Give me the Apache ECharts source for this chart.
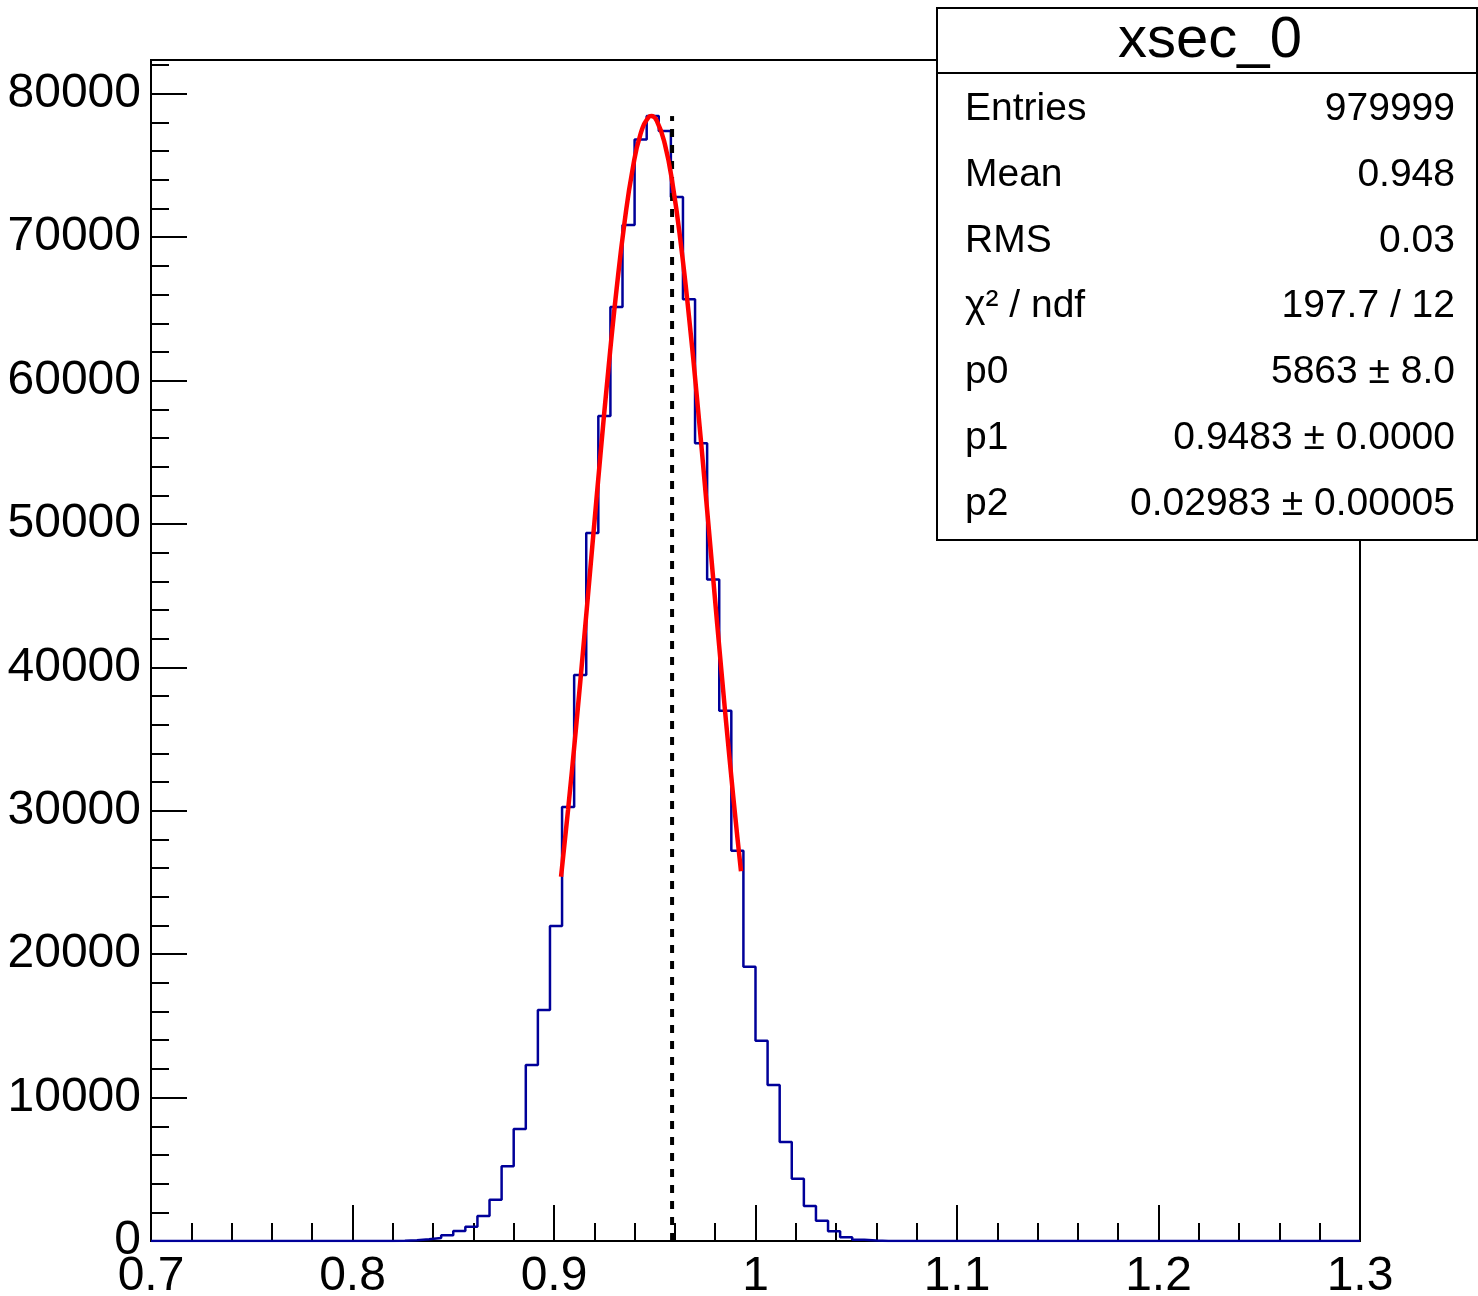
<!DOCTYPE html>
<html>
<head>
<meta charset="utf-8">
<script src="https://cdn.jsdelivr.net/npm/echarts@6/dist/echarts.min.js"></script>
<style>
html,body{margin:0;padding:0;background:#fff;}
#chart{width:1478px;height:1296px;}
</style>
</head>
<body>
<div id="chart"></div>
<script>
// ---- data ----
const binLow = 0.7;
const binWidth = 0.006;
const binCounts = [
  0,0,0,0,0,0,0,0,0,0,
  0,0,0,0,0,0,0,0,0,5,
  15,50,120,210,400,700,1000,1740,2880,5210,
  7810,12270,16110,21970,30270,39470,49370,57530,65130,70850,
  76820,78450,77400,72800,65670,55630,46140,36980,27220,19130,
  13970,10880,6900,4340,2440,1420,680,260,80,30,
  0,0,0,0,0,0,0,0,0,0,
  0,0,0,0,0,0,0,0,0,0,
  0,0,0,0,0,0,0,0,0,0,
  0,0,0,0,0,0,0,0,0,0
];
const fitX = [0.9035,0.907,0.911,0.915,0.919,0.923,0.927,0.931,0.935,0.939,0.943,0.947,0.9483,0.951,0.955,0.959,0.963,0.967,0.971,0.975,0.979,0.983,0.987,0.991,0.9928];
const fitY = [25400,30090,35900,42070,48430,54750,60800,66300,71030,74730,77220,78380,78450,78130,76500,73560,69480,64450,58730,52550,46200,39880,33820,28160,25790];
const refX = [0.9586, 0.9586];
const refY = [0, 78450];
const xTicks = { min: 0.7, max: 1.3, interval: 0.1 };
const yTicks = { min: 0, max: 82360, interval: 10000, minor: 2000 };
const statsTitle = 'xsec_0';
const statsNames = ['Entries', 'Mean', 'RMS', 'χ² / ndf', 'p0', 'p1', 'p2'];
const statsValues = ['979999', '0.948', '0.03', '197.7 / 12', '5863 ± 8.0', '0.9483 ± 0.0000', '0.02983 ± 0.00005'];

// ---- build ----
const histData = binCounts.map((v, k) => [+(binLow + k * binWidth).toFixed(4), v]);
histData.push([+(binLow + binCounts.length * binWidth).toFixed(4), binCounts[binCounts.length - 1]]);
const fitData = fitX.map((x, i) => [x, fitY[i]]);
const refData = refX.map((x, i) => [x, refY[i]]);

const FONT = '"Liberation Sans", Arial, sans-serif';
const chart = echarts.init(document.getElementById('chart'), null, { renderer: 'canvas' });

const graphics = [
  { type: 'rect', z: 100, shape: { x: 937, y: 8, width: 540, height: 532 },
    style: { fill: '#fff', stroke: '#000', lineWidth: 2 } },
  { type: 'line', z: 101, shape: { x1: 937, y1: 73, x2: 1477, y2: 73 },
    style: { stroke: '#000', lineWidth: 2 } },
  { type: 'text', z: 102, style: { text: statsTitle, x: 1210, y: 41, font: '58px ' + FONT,
    fill: '#000', textAlign: 'center', textVerticalAlign: 'middle' } }
];
statsNames.forEach((n, i) => {
  const y = 109 + 65.9 * i;
  graphics.push({ type: 'text', z: 102, style: { text: n, x: 965, y: y, font: '39px ' + FONT,
    fill: '#000', textAlign: 'left', textVerticalAlign: 'middle' } });
  graphics.push({ type: 'text', z: 102, style: { text: statsValues[i], x: 1455, y: y, font: '39px ' + FONT,
    fill: '#000', textAlign: 'right', textVerticalAlign: 'middle' } });
});

const option = {
  animation: false,
  backgroundColor: '#fff',
  grid: { left: 151, top: 60, width: 1209, height: 1181, outerBoundsMode: 'none', containLabel: false,
    show: true, borderColor: '#000', borderWidth: 2, backgroundColor: 'transparent' },
  xAxis: {
    type: 'value', min: xTicks.min, max: xTicks.max, interval: xTicks.interval,
    axisLine: { show: true, onZero: false, lineStyle: { color: '#000', width: 2 } },
    axisTick: { show: true, inside: true, length: 36, lineStyle: { color: '#000', width: 2 } },
    minorTick: { show: true, splitNumber: 5, length: 18, lineStyle: { color: '#000', width: 2 } },
    splitLine: { show: false },
    axisLabel: { color: '#000', fontSize: 48, fontFamily: FONT, margin: 12 }
  },
  yAxis: [{
    type: 'value', min: yTicks.min, max: yTicks.max, interval: yTicks.interval,
    axisLine: { show: true, lineStyle: { color: '#000', width: 2 } },
    axisTick: { show: true, inside: true, length: 36, lineStyle: { color: '#000', width: 2 } },
    splitLine: { show: false },
    axisLabel: { color: '#000', fontSize: 48, fontFamily: FONT, margin: 10, showMaxLabel: false,
      padding: [6, 0, 0, 0],
      formatter: v => (v % 10000 === 0 ? String(v) : '') }
  }, {
    type: 'value', position: 'left', min: yTicks.min, max: yTicks.max, interval: yTicks.minor,
    axisLine: { show: false },
    axisTick: { show: true, inside: true, length: 18, lineStyle: { color: '#000', width: 2 } },
    splitLine: { show: false },
    axisLabel: { show: false }
  }],
  graphic: graphics,
  series: [
    { type: 'line', data: histData, step: 'end', symbol: 'none', z: 2,
      lineStyle: { color: '#000099', width: 2.5 } },
    { type: 'line', data: refData, symbol: 'none', z: 3,
      lineStyle: { color: '#000', width: 4, type: [8, 8] } },
    { type: 'line', data: fitData, smooth: true, symbol: 'none', z: 4,
      lineStyle: { color: '#ff0000', width: 4.5 } }
  ]
};
chart.setOption(option);
</script>
</body>
</html>
